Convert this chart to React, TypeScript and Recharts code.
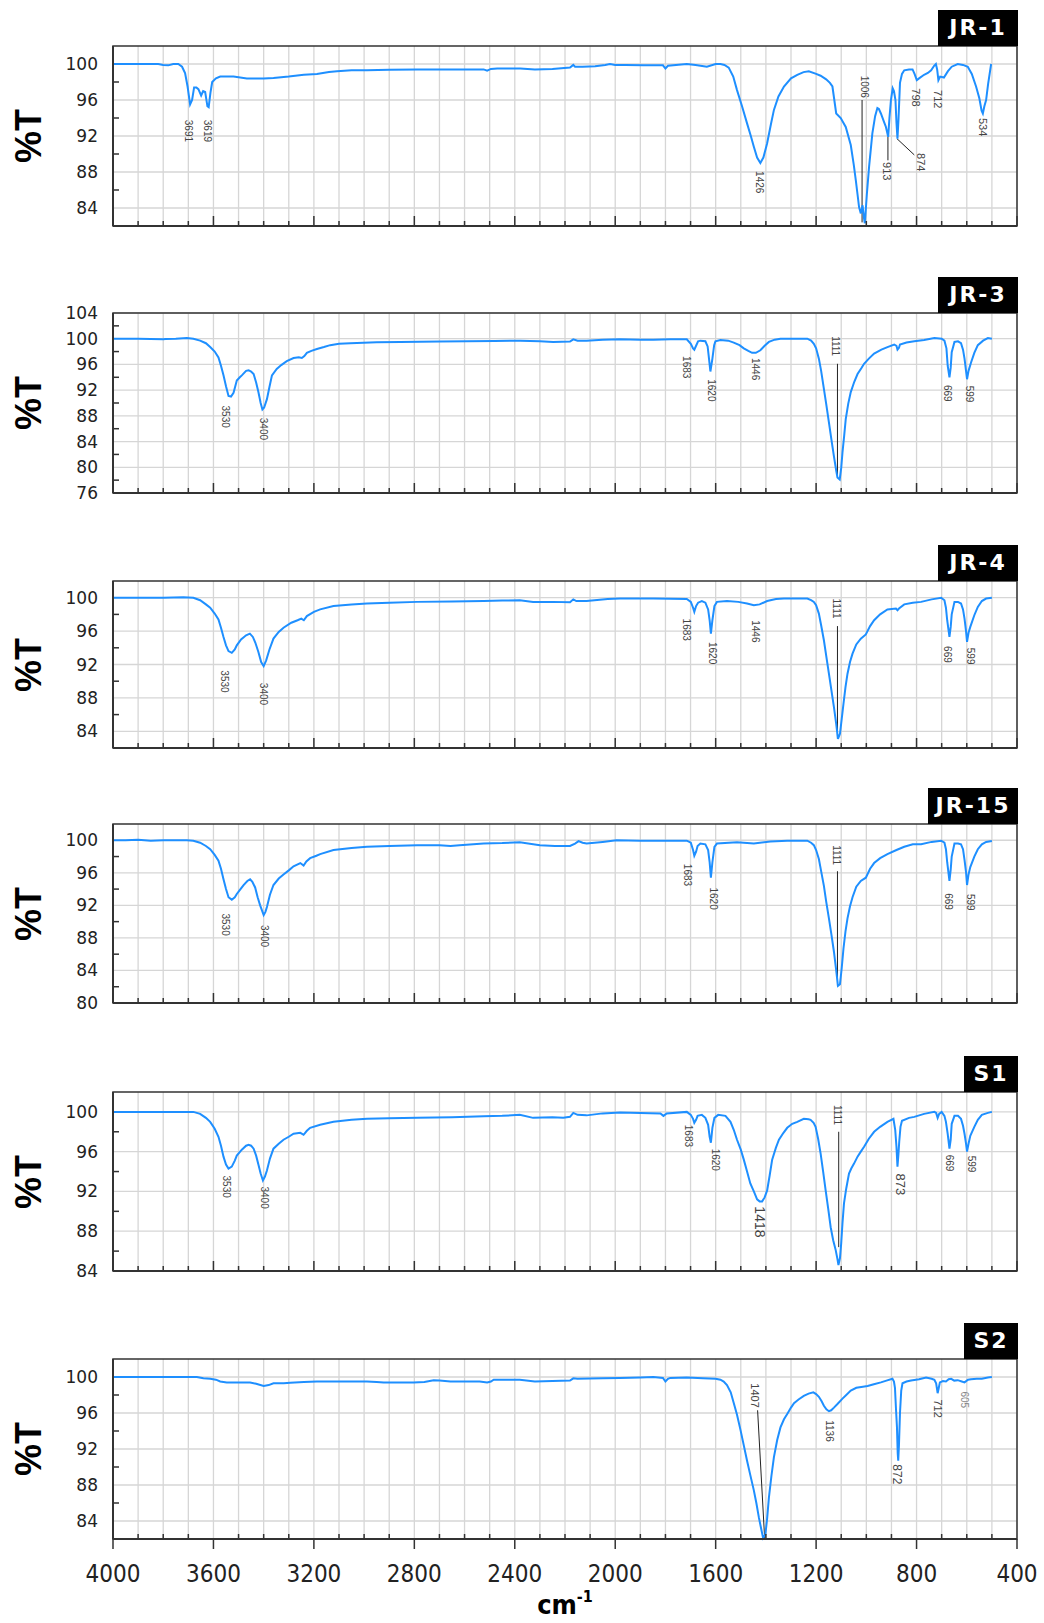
import {
  LineChart,
  Line,
  XAxis,
  YAxis,
  CartesianGrid,
  ReferenceArea,
  ReferenceDot,
  ReferenceLine,
} from "recharts";

type Pt = [number, number];
type Peak = { w: number; t: number; text: string; size?: number; color?: string };
type Leader = [number, number, number, number];

// wavenumber (cm-1), %T
const jr1: Pt[] = [
  [4000, 100], [3900, 100], [3820, 100], [3800, 99.9], [3780, 99.85], [3760, 100], [3740, 100], [3725, 99.7],
  [3713, 99], [3703, 97.5], [3693, 95.5], [3685, 96], [3677, 97.4], [3668, 97.4], [3660, 97.2], [3649, 96.5],
  [3641, 97.0], [3633, 96.9], [3624, 95.3], [3619, 95.2], [3612, 96.8], [3605, 98.0], [3590, 98.4], [3573, 98.6],
  [3520, 98.6], [3467, 98.4], [3400, 98.4], [3361, 98.45], [3300, 98.6], [3240, 98.8], [3188, 98.9], [3140, 99.1],
  [3108, 99.2], [3050, 99.3], [2989, 99.3], [2900, 99.35], [2789, 99.4], [2700, 99.4], [2600, 99.4], [2524, 99.4],
  [2510, 99.25], [2495, 99.45], [2470, 99.5], [2378, 99.5], [2320, 99.4], [2250, 99.45], [2180, 99.6], [2167, 99.9],
  [2160, 99.7], [2130, 99.7], [2080, 99.75], [2040, 99.9], [2021, 100], [2000, 99.9], [1960, 99.9], [1888, 99.85],
  [1810, 99.85], [1800, 99.5], [1790, 99.8], [1715, 100], [1680, 99.9], [1635, 99.7], [1600, 100], [1581, 100],
  [1565, 99.9], [1548, 99.6], [1530, 98.6], [1515, 97.1], [1495, 95.3], [1475, 93.4], [1460, 92.0], [1448, 90.8],
  [1435, 89.6], [1422, 89.0], [1410, 89.6], [1395, 91.2], [1380, 93.3], [1368, 94.9], [1350, 96.4], [1328, 97.5],
  [1300, 98.4], [1275, 98.8], [1250, 99.1], [1229, 99.2], [1200, 98.9], [1182, 98.7], [1160, 98.3], [1145, 97.9],
  [1135, 97.5], [1125, 95.5], [1120, 94.5], [1102, 94.0], [1082, 93.0], [1062, 91.0], [1050, 88.8], [1042, 87.1],
  [1035, 85.5], [1029, 84.1], [1022, 83.4], [1015, 84.3], [1010, 83.0], [1006, 82.3], [998, 85.5], [989, 88.6],
  [976, 92.3], [965, 94.2], [956, 95.1], [950, 95.0], [942, 94.5], [930, 93.6], [922, 93.0], [913, 91.9],
  [908, 94.0], [902, 96.0], [895, 97.3], [890, 97.0], [884, 96.0], [880, 93.5], [876, 91.7], [872, 93.8],
  [866, 97.9], [858, 98.9], [849, 99.3], [830, 99.4], [816, 99.4], [808, 98.9], [799, 98.2], [790, 98.4],
  [770, 98.8], [755, 99.0], [742, 99.3], [730, 99.8], [723, 100], [718, 99.4], [713, 98.2], [706, 98.6],
  [691, 98.5], [675, 99.2], [660, 99.7], [636, 100], [615, 99.9], [596, 99.7], [580, 98.9], [563, 97.5],
  [550, 96.2], [541, 94.8], [536, 94.5], [530, 95.3], [523, 96.0], [515, 97.8], [503, 100],
];

const jr3: Pt[] = [
  [4000, 100], [3900, 100], [3800, 99.9], [3790, 99.95], [3750, 100], [3706, 100.1], [3680, 100], [3653, 99.7],
  [3630, 99.3], [3613, 98.7], [3595, 98], [3580, 97.1], [3570, 95.8], [3560, 94.3], [3550, 92.6], [3540, 91.1],
  [3530, 91.0], [3520, 91.6], [3507, 93.5], [3495, 94.0], [3487, 94.3], [3470, 95.0], [3460, 95.1], [3450, 94.9],
  [3440, 94.5], [3430, 93.2], [3421, 91.7], [3412, 90.0], [3405, 89.0], [3398, 89.3], [3387, 90.6], [3377, 92.5],
  [3367, 94.3], [3348, 95.3], [3330, 95.9], [3308, 96.5], [3281, 97.0], [3260, 97.1], [3248, 97.0], [3238, 97.3],
  [3228, 97.8], [3210, 98.1], [3188, 98.4], [3160, 98.7], [3135, 99.0], [3100, 99.2], [3055, 99.3], [2950, 99.45],
  [2856, 99.5], [2700, 99.55], [2590, 99.6], [2480, 99.65], [2378, 99.7], [2300, 99.6], [2247, 99.5], [2180, 99.55],
  [2167, 99.9], [2150, 99.7], [2114, 99.7], [2050, 99.85], [1981, 99.9], [1900, 99.85], [1848, 99.85], [1780, 99.9],
  [1715, 99.9], [1699, 99.2], [1690, 98.5], [1685, 98.3], [1678, 98.9], [1670, 99.6], [1661, 99.7], [1641, 99.6],
  [1632, 98.8], [1628, 97.4], [1621, 94.9], [1613, 96.9], [1606, 99], [1601, 99.6], [1581, 99.8], [1550, 99.7],
  [1528, 99.4], [1505, 99.0], [1488, 98.5], [1470, 98.1], [1455, 97.8], [1440, 97.8], [1422, 98.2], [1405, 98.9],
  [1388, 99.5], [1365, 99.85], [1342, 100], [1280, 100], [1235, 100], [1220, 99.7], [1209, 99.2], [1200, 98.5],
  [1189, 96.9], [1180, 95.0], [1169, 92.2], [1160, 89.9], [1149, 87.0], [1139, 84.3], [1129, 81.7], [1120, 79.5],
  [1115, 78.4], [1106, 78.1], [1100, 79.9], [1095, 82.3], [1088, 85.0], [1082, 87.5], [1072, 89.9], [1062, 91.7],
  [1048, 93.3], [1035, 94.5], [1020, 95.4], [1009, 96.1], [990, 96.9], [969, 97.7], [940, 98.3], [916, 98.7],
  [889, 99.1], [880, 98.9], [876, 98.3], [870, 98.6], [866, 99.1], [840, 99.4], [809, 99.6], [770, 99.8],
  [729, 100.1], [700, 100], [689, 99.7], [681, 98.5], [676, 95.8], [669, 94.0], [664, 95.5], [660, 97.9],
  [649, 99.5], [635, 99.6], [623, 99.3], [615, 98.3], [609, 96.9], [603, 95.0], [599, 93.7], [593, 95.0],
  [583, 96.3], [570, 97.8], [556, 99.0], [535, 99.7], [516, 100.1], [500, 100],
];

const jr4: Pt[] = [
  [4000, 100], [3900, 100], [3800, 100], [3720, 100.05], [3680, 100], [3653, 99.7], [3630, 99.2], [3613, 98.8],
  [3595, 98.1], [3580, 97.4], [3570, 96.4], [3560, 95.3], [3550, 94.3], [3540, 93.6], [3527, 93.4], [3515, 93.8],
  [3507, 94.3], [3490, 95.0], [3470, 95.5], [3455, 95.7], [3443, 95.3], [3433, 94.6], [3421, 93.5], [3410, 92.3],
  [3400, 91.8], [3390, 92.5], [3377, 93.8], [3361, 95.1], [3340, 95.9], [3321, 96.4], [3290, 97.0], [3265, 97.3],
  [3250, 97.5], [3240, 97.3], [3228, 97.8], [3200, 98.3], [3175, 98.6], [3122, 99.0], [3050, 99.2], [2989, 99.3],
  [2900, 99.4], [2789, 99.5], [2650, 99.55], [2524, 99.6], [2450, 99.65], [2380, 99.7], [2327, 99.5], [2250, 99.5],
  [2180, 99.45], [2167, 99.8], [2155, 99.6], [2114, 99.6], [2030, 99.85], [1981, 99.9], [1848, 99.9], [1715, 99.85],
  [1699, 99.5], [1690, 98.8], [1685, 98.3], [1678, 99.0], [1670, 99.4], [1655, 99.6], [1641, 99.4], [1630, 98.6],
  [1624, 97.3], [1619, 95.7], [1613, 97.3], [1605, 99], [1595, 99.5], [1555, 99.6], [1510, 99.5], [1475, 99.3],
  [1448, 99.1], [1425, 99.2], [1395, 99.6], [1360, 99.85], [1328, 99.9], [1235, 99.9], [1220, 99.7], [1209, 99.5],
  [1200, 99.1], [1189, 98.1], [1180, 96.7], [1169, 94.9], [1160, 93.1], [1149, 90.9], [1139, 88.9], [1129, 86.9],
  [1120, 84.9], [1113, 83.1], [1105, 83.7], [1098, 85.5], [1091, 87.3], [1083, 89.3], [1075, 90.9], [1065, 92.3],
  [1055, 93.3], [1040, 94.4], [1022, 95.1], [1002, 95.6], [985, 96.6], [969, 97.3], [945, 98.0], [916, 98.6],
  [882, 98.7], [876, 98.5], [870, 98.7], [849, 99.2], [815, 99.4], [782, 99.5], [740, 99.8], [702, 100],
  [689, 99.7], [683, 98.8], [678, 97.3], [669, 95.3], [664, 96.5], [660, 98.0], [649, 99.5], [635, 99.5],
  [623, 99.3], [615, 98.6], [609, 97.5], [603, 96.0], [599, 94.7], [593, 95.8], [586, 96.5], [570, 97.9],
  [556, 98.9], [540, 99.6], [523, 99.9], [500, 100],
];

const jr15: Pt[] = [
  [4000, 100], [3950, 100], [3900, 100.05], [3850, 99.95], [3800, 100], [3706, 100], [3680, 99.95], [3653, 99.7],
  [3630, 99.3], [3613, 98.9], [3595, 98.2], [3580, 97.5], [3570, 96.5], [3560, 95.2], [3550, 94.0], [3540, 93.0],
  [3527, 92.7], [3515, 93.0], [3507, 93.4], [3490, 94.1], [3480, 94.5], [3465, 95.0], [3454, 95.2], [3445, 94.9],
  [3434, 94.2], [3424, 93.0], [3414, 92.0], [3400, 90.8], [3393, 91.2], [3387, 91.8], [3375, 93.3], [3361, 94.5],
  [3340, 95.3], [3321, 95.8], [3300, 96.3], [3281, 96.8], [3254, 97.2], [3241, 96.9], [3230, 97.4], [3215, 97.8],
  [3190, 98.1], [3175, 98.3], [3122, 98.8], [3050, 99.05], [2989, 99.2], [2900, 99.3], [2789, 99.4], [2700, 99.4],
  [2656, 99.3], [2620, 99.4], [2524, 99.6], [2450, 99.65], [2380, 99.75], [2300, 99.4], [2240, 99.3], [2180, 99.3],
  [2160, 99.6], [2146, 99.9], [2130, 99.7], [2114, 99.6], [2050, 99.8], [1995, 100], [1900, 99.95], [1715, 99.95],
  [1699, 99.7], [1690, 98.8], [1685, 98.1], [1678, 98.6], [1672, 99.3], [1661, 99.6], [1641, 99.5], [1630, 98.8],
  [1624, 97.3], [1619, 95.4], [1613, 97.3], [1605, 99.2], [1595, 99.6], [1515, 99.75], [1448, 99.6], [1382, 99.85],
  [1315, 99.95], [1235, 99.95], [1220, 99.7], [1209, 99.4], [1200, 98.8], [1189, 97.7], [1180, 96.2], [1169, 94.4],
  [1160, 92.5], [1149, 90.4], [1139, 88.4], [1129, 86.3], [1120, 84.0], [1113, 82.1], [1105, 82.3], [1098, 84.3],
  [1091, 86.7], [1083, 88.8], [1075, 90.4], [1065, 91.9], [1055, 93.0], [1040, 94.3], [1022, 95.0], [1002, 95.4],
  [985, 96.5], [969, 97.2], [945, 97.8], [916, 98.3], [880, 98.8], [849, 99.2], [815, 99.5], [782, 99.5],
  [740, 99.8], [702, 99.95], [689, 99.7], [683, 98.9], [678, 97.3], [669, 95.0], [664, 96.4], [660, 98.0],
  [649, 99.6], [635, 99.6], [623, 99.5], [615, 98.9], [609, 97.6], [603, 96.1], [599, 94.5], [593, 95.8],
  [586, 96.7], [570, 98.0], [556, 98.9], [540, 99.5], [523, 99.8], [500, 99.9],
];

const s1: Pt[] = [
  [4000, 100], [3800, 100], [3700, 100], [3680, 100], [3653, 99.8], [3630, 99.4], [3613, 99.0], [3595, 98.3],
  [3580, 97.5], [3570, 96.6], [3560, 95.5], [3550, 94.7], [3540, 94.3], [3527, 94.5], [3515, 95.1], [3507, 95.6],
  [3487, 96.2], [3470, 96.6], [3460, 96.7], [3450, 96.6], [3440, 96.3], [3430, 95.6], [3421, 94.7], [3412, 93.8],
  [3403, 93.1], [3395, 93.5], [3387, 94.1], [3375, 95.3], [3361, 96.3], [3340, 96.8], [3321, 97.2], [3300, 97.5],
  [3281, 97.8], [3254, 97.9], [3241, 97.7], [3228, 98.1], [3215, 98.4], [3175, 98.7], [3122, 99.0], [3050, 99.2],
  [2989, 99.3], [2900, 99.35], [2789, 99.4], [2650, 99.45], [2524, 99.55], [2450, 99.6], [2380, 99.7], [2327, 99.4],
  [2250, 99.45], [2207, 99.4], [2180, 99.5], [2167, 99.9], [2150, 99.7], [2114, 99.65], [2050, 99.85], [1981, 99.95],
  [1900, 99.9], [1820, 99.85], [1808, 99.6], [1795, 99.85], [1715, 100], [1699, 99.7], [1690, 99.3], [1685, 98.9],
  [1678, 99.2], [1672, 99.6], [1655, 99.7], [1641, 99.4], [1630, 98.7], [1624, 97.5], [1619, 96.9], [1613, 98.4],
  [1605, 99.4], [1590, 99.7], [1561, 99.6], [1541, 99.0], [1528, 98.2], [1515, 97.2], [1500, 96.2], [1488, 95.2],
  [1475, 94.0], [1462, 92.8], [1448, 92.0], [1435, 91.2], [1425, 91.0], [1415, 91.0], [1405, 91.4], [1395, 92.1],
  [1385, 93.6], [1375, 95.2], [1360, 96.4], [1348, 97.2], [1330, 97.9], [1315, 98.4], [1295, 98.8], [1275, 99.0],
  [1249, 99.3], [1230, 99.25], [1222, 99.2], [1210, 98.9], [1202, 98.5], [1192, 97.3], [1182, 95.8], [1172, 94.0],
  [1162, 92.1], [1152, 90.3], [1142, 88.4], [1132, 87.1], [1122, 86.1], [1115, 85.2], [1111, 84.6], [1105, 85.3],
  [1100, 86.8], [1095, 88.8], [1089, 90.8], [1080, 92.3], [1069, 93.8], [1060, 94.3], [1049, 94.8], [1035, 95.5],
  [1022, 96.0], [1009, 96.5], [990, 97.3], [969, 98.0], [945, 98.5], [916, 99.0], [892, 99.3], [885, 98.2],
  [880, 96.5], [876, 94.5], [872, 95.8], [869, 97.0], [864, 98.5], [858, 99.1], [830, 99.4], [809, 99.5],
  [770, 99.8], [729, 100], [722, 99.9], [716, 99.4], [710, 99.8], [700, 100], [689, 99.6], [683, 99.0],
  [676, 97.8], [669, 96.3], [664, 97.2], [660, 98.8], [649, 99.6], [635, 99.6], [623, 99.3], [615, 98.6],
  [609, 97.8], [603, 96.8], [599, 96.0], [593, 96.8], [586, 97.6], [570, 98.5], [556, 99.2], [540, 99.7],
  [516, 99.9], [500, 100],
];

const s2: Pt[] = [
  [4000, 100], [3900, 100], [3800, 100], [3700, 100], [3666, 100], [3640, 99.85], [3613, 99.8], [3590, 99.7],
  [3573, 99.5], [3547, 99.4], [3500, 99.4], [3454, 99.4], [3430, 99.25], [3400, 99.0], [3380, 99.1], [3361, 99.3],
  [3320, 99.3], [3294, 99.35], [3240, 99.45], [3188, 99.5], [3100, 99.5], [2989, 99.5], [2950, 99.45], [2922, 99.4],
  [2850, 99.4], [2803, 99.4], [2760, 99.45], [2723, 99.65], [2700, 99.6], [2656, 99.5], [2600, 99.5], [2540, 99.5],
  [2510, 99.4], [2495, 99.5], [2484, 99.7], [2430, 99.7], [2380, 99.7], [2320, 99.5], [2250, 99.55], [2180, 99.6],
  [2167, 99.85], [2150, 99.8], [2050, 99.85], [1981, 99.9], [1900, 99.95], [1848, 100], [1810, 99.9], [1800, 99.5],
  [1790, 99.8], [1781, 99.9], [1715, 99.95], [1650, 99.85], [1600, 99.8], [1581, 99.7], [1568, 99.5], [1555, 99.1],
  [1540, 98.3], [1528, 97.1], [1515, 95.8], [1501, 94.1], [1488, 92.4], [1475, 90.7], [1462, 89.1], [1448, 87.4],
  [1438, 86.0], [1428, 84.4], [1420, 83.3], [1411, 82.1], [1402, 82.5], [1395, 84.3], [1388, 86.6], [1378, 89.0],
  [1368, 91.1], [1355, 93.0], [1342, 94.4], [1328, 95.3], [1315, 95.9], [1300, 96.6], [1288, 97.1], [1270, 97.5],
  [1249, 97.9], [1230, 98.15], [1211, 98.3], [1200, 98.1], [1189, 97.8], [1178, 97.3], [1169, 96.8], [1159, 96.4],
  [1149, 96.2], [1140, 96.3], [1129, 96.6], [1115, 97.0], [1095, 97.6], [1080, 98.0], [1062, 98.5], [1040, 98.8],
  [1020, 98.9], [995, 99.0], [970, 99.2], [942, 99.4], [920, 99.6], [896, 99.8], [890, 99.5], [886, 98.8],
  [882, 96.5], [878, 94.4], [875, 91.5], [873, 90.7], [870, 92.5], [866, 96.0], [861, 98.5], [856, 99.3],
  [840, 99.5], [822, 99.6], [790, 99.75], [762, 99.95], [740, 99.8], [729, 99.7], [722, 99.3], [716, 98.2],
  [710, 99.0], [707, 99.4], [695, 99.55], [683, 99.5], [672, 99.75], [662, 99.8], [650, 99.6], [636, 99.65],
  [620, 99.5], [609, 99.4], [595, 99.7], [583, 99.75], [560, 99.8], [540, 99.8], [516, 99.95], [500, 100],
];

const X_TICKS = [
  4000, 3900, 3800, 3700, 3600, 3500, 3400, 3300, 3200, 3100, 3000, 2900, 2800, 2700, 2600, 2500, 2400, 2300, 2200,
  2100, 2000, 1900, 1800, 1700, 1600, 1500, 1400, 1300, 1200, 1100, 1000, 900, 800, 700, 600, 500, 400,
];
const X_LABELS = [4000, 3600, 3200, 2800, 2400, 2000, 1600, 1200, 800, 400];

const Y_TICKS_A = [84, 86, 88, 90, 92, 94, 96, 98, 100];
const Y_LABELS_A = [84, 88, 92, 96, 100];
const Y_TICKS_B = [76, 78, 80, 82, 84, 86, 88, 90, 92, 94, 96, 98, 100, 102, 104];
const Y_LABELS_B = [76, 80, 84, 88, 92, 96, 100, 104];
const Y_TICKS_C = [80, 82, 84, 86, 88, 90, 92, 94, 96, 98, 100];
const Y_LABELS_C = [80, 84, 88, 92, 96, 100];

const jr1Peaks: Peak[] = [
  { w: 3700, t: 93.8, text: "3691" },
  { w: 3624, t: 93.8, text: "3619" },
  { w: 1426, t: 88.1, text: "1426" },
  { w: 1009, t: 98.7, text: "1006" },
  { w: 916, t: 89.1, text: "913", size: 11 },
  { w: 781, t: 90.1, text: "874", size: 11 },
  { w: 802, t: 97.3, text: "798", size: 11 },
  { w: 713, t: 97.1, text: "712", size: 11 },
  { w: 536, t: 94.0, text: "534", size: 11 },
];
const jr1Leaders: Leader[] = [
  [1017, 96.0, 1017, 82.4],
  [914, 91.9, 914, 89.3],
  [878, 91.7, 809, 89.9],
];

const jr3Peaks: Peak[] = [
  { w: 3553, t: 89.6, text: "3530" },
  { w: 3400, t: 87.7, text: "3400" },
  { w: 1718, t: 97.3, text: "1683" },
  { w: 1615, t: 93.7, text: "1620" },
  { w: 1442, t: 97.0, text: "1446" },
  { w: 1122, t: 100.4, text: "1111" },
  { w: 676, t: 92.8, text: "669" },
  { w: 589, t: 92.7, text: "599" },
];
const jr3Leaders: Leader[] = [[1115, 96.1, 1115, 78.6]];

const jr4Peaks: Peak[] = [
  { w: 3555, t: 91.3, text: "3530" },
  { w: 3400, t: 89.8, text: "3400" },
  { w: 1716, t: 97.5, text: "1683" },
  { w: 1611, t: 94.7, text: "1620" },
  { w: 1442, t: 97.3, text: "1446" },
  { w: 1120, t: 99.9, text: "1111" },
  { w: 676, t: 94.2, text: "669" },
  { w: 586, t: 94.0, text: "599" },
];
const jr4Leaders: Leader[] = [[1115, 96.6, 1115, 83.1]];

const jr15Peaks: Peak[] = [
  { w: 3553, t: 91.0, text: "3530" },
  { w: 3398, t: 89.6, text: "3400" },
  { w: 1714, t: 97.1, text: "1683" },
  { w: 1608, t: 94.2, text: "1620" },
  { w: 1120, t: 99.4, text: "1111" },
  { w: 673, t: 93.5, text: "669" },
  { w: 585, t: 93.4, text: "599" },
];
const jr15Leaders: Leader[] = [[1115, 96.2, 1115, 82.1]];

const s1Peaks: Peak[] = [
  { w: 3547, t: 93.6, text: "3530" },
  { w: 3397, t: 92.5, text: "3400" },
  { w: 1708, t: 98.7, text: "1683" },
  { w: 1601, t: 96.3, text: "1620" },
  { w: 1422, t: 90.5, text: "1418", size: 14 },
  { w: 1115, t: 100.7, text: "1111" },
  { w: 865, t: 93.8, text: "873", size: 13 },
  { w: 669, t: 95.7, text: "669" },
  { w: 583, t: 95.6, text: "599" },
];
const s1Leaders: Leader[] = [[1110, 98.0, 1110, 86.4]];

const s2Peaks: Peak[] = [
  { w: 1442, t: 99.3, text: "1407", size: 11 },
  { w: 1145, t: 95.2, text: "1136" },
  { w: 878, t: 90.3, text: "872", size: 12 },
  { w: 716, t: 97.5, text: "712", size: 11 },
  { w: 609, t: 98.4, text: "605", color: "#888" },
];
const s2Leaders: Leader[] = [[1433, 96.3, 1405, 82.1]];

const PANELS = [
  { tag: "JR-1", tagW: 80, data: jr1, top: 46, bottom: 226, domain: [82, 102], ticks: Y_TICKS_A, labels: Y_LABELS_A, peaks: jr1Peaks, leaders: jr1Leaders },
  { tag: "JR-3", tagW: 80, data: jr3, top: 313, bottom: 493, domain: [76, 104], ticks: Y_TICKS_B, labels: Y_LABELS_B, peaks: jr3Peaks, leaders: jr3Leaders },
  { tag: "JR-4", tagW: 80, data: jr4, top: 581, bottom: 748, domain: [82, 102], ticks: Y_TICKS_A, labels: Y_LABELS_A, peaks: jr4Peaks, leaders: jr4Leaders },
  { tag: "JR-15", tagW: 90, data: jr15, top: 824, bottom: 1003, domain: [80, 102], ticks: Y_TICKS_C, labels: Y_LABELS_C, peaks: jr15Peaks, leaders: jr15Leaders },
  { tag: "S1", tagW: 54, data: s1, top: 1092, bottom: 1271, domain: [84, 102], ticks: Y_TICKS_A, labels: Y_LABELS_A, peaks: s1Peaks, leaders: s1Leaders },
  { tag: "S2", tagW: 54, data: s2, top: 1359, bottom: 1539, domain: [82, 102], ticks: Y_TICKS_A, labels: Y_LABELS_A, peaks: s2Peaks, leaders: s2Leaders },
];

const W = 1044;
const PLOT_LEFT = 113;
const PLOT_RIGHT = 1017;
const AXIS = "#333";
const BLUE = "#1e8fff";
const NARROW = "'DejaVu Sans Condensed', 'Liberation Sans Narrow', 'Liberation Sans', sans-serif";

const yTick = (labels: number[]) => (props: any) => {
  const { x, y, payload } = props;
  if (labels.includes(payload.value)) {
    return (
      <text x={x - 15} y={y} textAnchor="end" dominantBaseline="central" fontSize={17}
        fontFamily="'DejaVu Sans', Verdana, sans-serif" fill="#222">
        {payload.value}
      </text>
    );
  }
  return <line x1={x} x2={x + 6} y1={y} y2={y} stroke={AXIS} strokeWidth={1.5} />;
};

const xTick = (last: boolean) => (props: any) => {
  const { x, y, payload } = props;
  const major = X_LABELS.includes(payload.value);
  if (!last) {
    return <line x1={x} x2={x} y1={y} y2={y - (major ? 10 : 5)} stroke={AXIS} strokeWidth={1.5} />;
  }
  if (!major) return <line x1={x} x2={x} y1={y} y2={y - 5} stroke={AXIS} strokeWidth={1.5} />;
  return (
    <g>
      <line x1={x} x2={x} y1={y} y2={y + 10} stroke={AXIS} strokeWidth={1.5} />
      <text x={x} y={y + 35} textAnchor="middle" dominantBaseline="central" fontSize={24}
        fontFamily={NARROW} fill="#222">
        {payload.value}
      </text>
    </g>
  );
};

const peakShape = (p: Peak) => (props: any) => {
  const { cx, cy } = props;
  return (
    <text x={cx} y={cy} transform={`rotate(90 ${cx} ${cy})`} textAnchor="start" dominantBaseline="central"
      fontSize={p.size ?? 10} fontFamily="'Liberation Sans', Arial, sans-serif" fill={p.color ?? "#444"}>
      {p.text}
    </text>
  );
};

function Panel({ panel, last }: { panel: (typeof PANELS)[number]; last: boolean }) {
  const mt = 14;
  const xh = last ? 60 : 20;
  const plotH = panel.bottom - panel.top;
  const rows = panel.data.map(([w, t]) => ({ w, t }));
  return (
    <div style={{ position: "absolute", left: 0, top: panel.top - mt }}>
      <LineChart width={W} height={mt + plotH + xh} data={rows}
        margin={{ top: mt, right: W - PLOT_RIGHT, left: PLOT_LEFT - 100, bottom: 0 }}>
        <CartesianGrid stroke="#d6d6d6" strokeWidth={1.3} horizontalValues={panel.labels} />
        <XAxis dataKey="w" type="number" domain={[400, 4000]} reversed ticks={X_TICKS} interval={0}
          height={xh} tickSize={0} tickMargin={0} tickLine={false} tick={xTick(last)}
          axisLine={{ stroke: AXIS, strokeWidth: 2 }} />
        <YAxis type="number" domain={panel.domain} ticks={panel.ticks} interval={0} width={100}
          tickSize={0} tickMargin={0} tickLine={false} tick={yTick(panel.labels)}
          axisLine={{ stroke: AXIS, strokeWidth: 2 }} />
        <ReferenceArea x1={4000} x2={400} y1={panel.domain[0]} y2={panel.domain[1]} fill="none"
          stroke={AXIS} strokeWidth={1.5} />
        {panel.leaders.map(([x1, y1, x2, y2], i) => (
          <ReferenceLine key={`l${i}`} segment={[{ x: x1, y: y1 }, { x: x2, y: y2 }]} stroke="#222" strokeWidth={1} />
        ))}
        <Line type="linear" dataKey="t" stroke={BLUE} strokeWidth={2} dot={false} isAnimationActive={false} />
        {panel.peaks.map((p) => (
          <ReferenceDot key={p.text + p.w} x={p.w} y={p.t} r={0} shape={peakShape(p)} />
        ))}
      </LineChart>
    </div>
  );
}

export default function App() {
  return (
    <div style={{ position: "absolute", left: 0, top: 0, width: W, height: 1623, background: "#fff", overflow: "hidden" }}>
      {PANELS.map((panel, i) => (
        <Panel key={panel.tag} panel={panel} last={i === PANELS.length - 1} />
      ))}
      {PANELS.map((panel) => (
        <div key={panel.tag + "-tag"}
          style={{
            position: "absolute", left: PLOT_RIGHT + 1 - panel.tagW, top: panel.top - 36, width: panel.tagW,
            height: 36, background: "#000", color: "#fff", fontFamily: "'DejaVu Sans', Verdana, sans-serif",
            fontWeight: 700, fontSize: 22, letterSpacing: 2, lineHeight: "36px", textAlign: "center",
          }}>
          {panel.tag}
        </div>
      ))}
      {PANELS.map((panel) => (
        <div key={panel.tag + "-y"}
          style={{
            position: "absolute", left: 29, top: (panel.top + panel.bottom) / 2, whiteSpace: "nowrap",
            transform: "translate(-50%, -50%) rotate(-90deg)", fontFamily: "'Liberation Sans Narrow', 'Liberation Sans', Arial, sans-serif",
            fontWeight: 700, fontSize: 36, lineHeight: 1, color: "#000",
          }}>
          %T
        </div>
      ))}
      <div
        style={{
          position: "absolute", left: (PLOT_LEFT + PLOT_RIGHT) / 2, top: 1591, transform: "translateX(-50%)",
          fontFamily: NARROW, fontWeight: 700, fontSize: 27, lineHeight: "28px", height: 28, color: "#000",
          whiteSpace: "nowrap",
        }}>
        cm<span style={{ fontSize: 16, position: "relative", top: -12 }}>-1</span>
      </div>
    </div>
  );
}
